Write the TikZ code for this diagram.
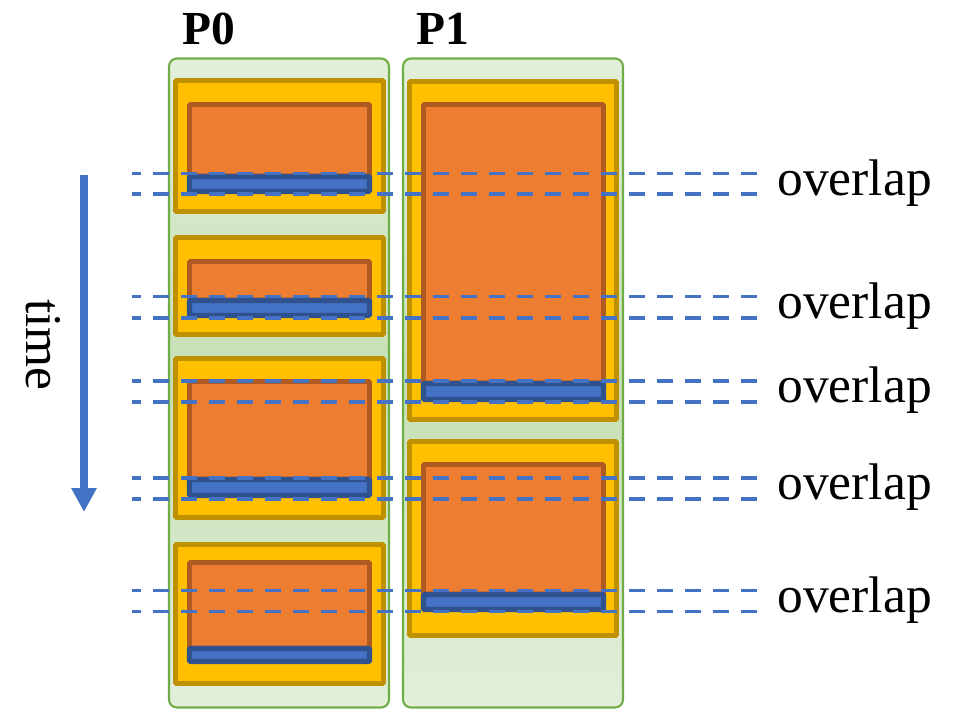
\documentclass[tikz,border=0pt]{standalone}
\usepackage{fontspec}
\setmainfont{Liberation Serif}
\usetikzlibrary{arrows.meta}
\definecolor{laneline}{HTML}{70AD47}
\definecolor{lanelight}{HTML}{E2EFDA}
\definecolor{lanemid}{HTML}{C5E0B4}
\definecolor{taskfill}{HTML}{FFC000}
\definecolor{taskline}{HTML}{BF9000}
\definecolor{compfill}{HTML}{ED7D31}
\definecolor{compline}{HTML}{AE5A21}
\definecolor{commfill}{HTML}{4472C4}
\definecolor{commline}{HTML}{2F528F}

\begin{document}
\begin{tikzpicture}[
				x=0.02cm, y=-0.02cm,
				lanebox/.style={draw=laneline, line width=1.2pt, rounded corners=0.16cm, top color=lanelight, bottom color=lanelight, middle color=lanemid},
				taskbox/.style={draw=taskline, fill=taskfill, line width=2.8pt, rounded corners=0.6pt},
				compbox/.style={draw=compline, fill=compfill, line width=2.8pt, rounded corners=0.6pt},
				commbox/.style={draw=commline, fill=commfill, line width=3pt, rounded corners=0.6pt},
				overlapline/.style={draw=commfill, line width=2.2pt, dash pattern=on 9.1pt off 6.83pt, dash phase=3.98pt},
				lbl/.style={font=\fontsize{29.3}{31}\selectfont, inner sep=0pt},
				proclbl/.style={font=\fontsize{27}{30}\selectfont\bfseries, inner sep=0pt}
				]
				\useasboundingbox (0,0) rectangle (957,710);
				
				% Process lanes
				\draw[lanebox] (169,58.5) rectangle (389,707.5);
				\draw[lanebox] (403,58.5) rectangle (623,707.5);
				\node[proclbl, anchor=base west] (lbl_p0) at (182,44) {P0};
				\node[proclbl, anchor=base west] (lbl_p1) at (416,44) {P1};
				
				% P0 tasks
				\draw[taskbox] (175.5,80.5) rectangle (383.5,211.5);
				\draw[compbox] (189.5,104.5) rectangle (369.5,176);
				\draw[commbox] (189.5,176.5) rectangle (369.5,191.5);
				\draw[taskbox] (175.5,237.5) rectangle (383.5,334.5);
				\draw[compbox] (189.5,261.5) rectangle (369.5,300);
				\draw[commbox] (189.5,300.5) rectangle (369.5,315.5);
				\draw[taskbox] (175.5,358.5) rectangle (383.5,517.5);
				\draw[compbox] (189.5,381.5) rectangle (369.5,479);
				\draw[commbox] (189.5,479.5) rectangle (369.5,495.5);
				\draw[taskbox] (175.5,544.5) rectangle (383.5,683.5);
				\draw[compbox] (189.5,562.5) rectangle (369.5,648);
				\draw[commbox] (189.5,648.5) rectangle (369.5,661.5);
				
				% P1 tasks
				\draw[taskbox] (409.5,81.5) rectangle (616.5,419.5);
				\draw[compbox] (423.5,104.5) rectangle (603.5,383);
				\draw[commbox] (423.5,383.5) rectangle (603.5,399.5);
				\draw[taskbox] (409.5,441.5) rectangle (616.5,635.5);
				\draw[compbox] (423.5,464.5) rectangle (603.5,594);
				\draw[commbox] (423.5,594.5) rectangle (603.5,609.5);
				
				% Overlap markers
				\draw[overlapline] (132,173.5) -- (758,173.5);
				\draw[overlapline] (132,194) -- (758,194);
				\node[lbl, anchor=base west] (ov1) at (777,195) {overlap};
				\draw[overlapline] (132,296.5) -- (758,296.5);
				\draw[overlapline] (132,318) -- (758,318);
				\node[lbl, anchor=base west] (ov2) at (777,318) {overlap};
				\draw[overlapline] (132,381) -- (758,381);
				\draw[overlapline] (132,402) -- (758,402);
				\node[lbl, anchor=base west] (ov3) at (777,402) {overlap};
				\draw[overlapline] (132,478) -- (758,478);
				\draw[overlapline] (132,499) -- (758,499);
				\node[lbl, anchor=base west] (ov4) at (777,499) {overlap};
				\draw[overlapline] (132,590.5) -- (758,590.5);
				\draw[overlapline] (132,611.5) -- (758,611.5);
				\node[lbl, anchor=base west] (ov5) at (777,612) {overlap};
				
				% Time axis
				\coordinate (t_start) at (84,175);
				\coordinate (t_end) at (84,512);
				\draw[commfill, line width=4.4pt, -{Triangle[length=0.48cm, width=0.48cm]}] (t_start) -- (t_end);
				\node[lbl, rotate=-90, anchor=base] (lbl_time) at (27,345) {time};
			\end{tikzpicture}
\end{document}
